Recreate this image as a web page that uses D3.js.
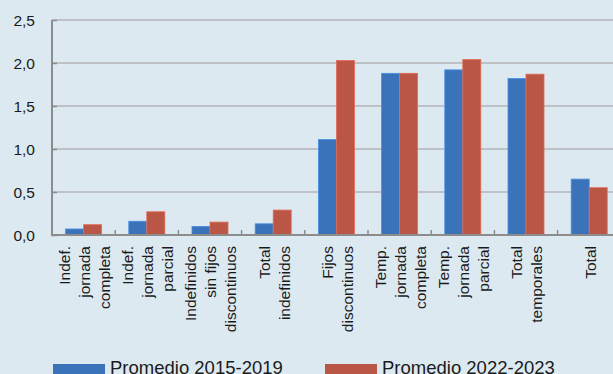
<!DOCTYPE html>
<html>
<head>
<meta charset="utf-8">
<script src="https://cdn.jsdelivr.net/npm/d3@7/dist/d3.min.js"></script>
<style>
  html, body { margin: 0; padding: 0; background: #dde9f0; }
  svg { display: block; font-family: "Liberation Sans", Arial, Helvetica, sans-serif; }
</style>
</head>
<body>
<svg width="613" height="374"></svg>
<script>
// categories, each one a list of label lines
var categories = [
    ["Indef.", "jornada", "completa"],
    ["Indef.", "jornada", "parcial"],
    ["Indefinidos", "sin fijos", "discontinuos"],
    ["Total", "indefinidos"],
    ["Fijos", "discontinuos"],
    ["Temp.", "jornada", "completa"],
    ["Temp.", "jornada", "parcial"],
    ["Total", "temporales"],
    ["Total"]
];
var seriesNames = ["Promedio 2015-2019", "Promedio 2022-2023"];
var seriesColors = ["#3a73b9", "#ba5645"];
var values2015 = [0.07, 0.16, 0.10, 0.13, 1.11, 1.88, 1.92, 1.82, 0.65];
var values2022 = [0.12, 0.27, 0.15, 0.29, 2.03, 1.88, 2.04, 1.87, 0.55];
var yTicks = [0, 0.5, 1.0, 1.5, 2.0, 2.5];

var svg = d3.select("svg"),
    plotLeft = 52,
    step = 63.2,
    plotTop = 20,
    plotBottom = 235;

var keys = categories.map(function(c, i) { return "c" + i; });

var x = d3.scaleBand()
    .domain(keys)
    .range([plotLeft, plotLeft + step * keys.length])
    .paddingInner(0.43)
    .paddingOuter(0.215);

var xs = d3.scaleBand()
    .domain([0, 1])
    .range([0, x.bandwidth()]);

var y = d3.scaleLinear()
    .domain([0, 2.5])
    .range([plotBottom, plotTop]);

var fmt = function(d) { return d3.format(".1f")(d).replace(".", ","); };

// gridlines
svg.append("g")
    .selectAll("line")
    .data(yTicks.slice(1))
    .enter().append("line")
    .attr("x1", plotLeft).attr("x2", 613)
    .attr("y1", function(d) { return y(d); })
    .attr("y2", function(d) { return y(d); })
    .attr("stroke", "#b3b5b8")
    .attr("stroke-width", 1.5);

// y axis ticks
var yAxis = svg.append("g")
    .attr("transform", "translate(" + plotLeft + ",0)")
    .call(d3.axisRight(y).tickValues(yTicks).tickSize(5).tickFormat(""));
yAxis.select(".domain").remove();
yAxis.selectAll("line").attr("stroke", "#8c8c8c").attr("stroke-width", 1.5);

svg.append("g")
    .selectAll("text")
    .data(yTicks)
    .enter().append("text")
    .attr("x", 35)
    .attr("y", function(d) { return y(d); })
    .attr("dy", "0.36em")
    .attr("text-anchor", "end")
    .attr("font-size", 15.5)
    .attr("fill", "#1a1a1a")
    .text(fmt);

// bars
var groups = svg.append("g")
    .selectAll("g")
    .data(keys)
    .enter().append("g")
    .attr("transform", function(d) { return "translate(" + x(d) + ",0)"; });

groups.selectAll("rect")
    .data(function(d, i) { return [values2015[i], values2022[i]]; })
    .enter().append("rect")
    .attr("x", function(d, j) { return xs(j); })
    .attr("width", xs.bandwidth())
    .attr("y", function(d) { return y(d); })
    .attr("height", function(d) { return plotBottom - y(d); })
    .attr("fill", function(d, j) { return seriesColors[j]; })
    .attr("stroke", function(d, j) { return d3.color(seriesColors[j]).brighter(0.6); })
    .attr("stroke-width", 0.8);

// left axis line
svg.append("line")
    .attr("x1", plotLeft).attr("x2", plotLeft)
    .attr("y1", plotTop).attr("y2", plotBottom)
    .attr("stroke", "#8c8c8c")
    .attr("stroke-width", 2);

// bottom axis with category boundary ticks
var boundaries = d3.range(keys.length + 1).map(function(i) { return plotLeft + step * i; });
svg.append("line")
    .attr("x1", plotLeft - 1).attr("x2", 613)
    .attr("y1", plotBottom).attr("y2", plotBottom)
    .attr("stroke", "#8c8c8c")
    .attr("stroke-width", 2);
svg.append("g")
    .selectAll("line")
    .data(boundaries.slice(1))
    .enter().append("line")
    .attr("x1", function(d) { return d; })
    .attr("x2", function(d) { return d; })
    .attr("y1", plotBottom).attr("y2", plotBottom - 5)
    .attr("stroke", "#8c8c8c")
    .attr("stroke-width", 1.5);

// category labels, rotated
var labels = svg.append("g")
    .selectAll("g")
    .data(categories)
    .enter().append("g")
    .attr("transform", function(d, i) {
        return "translate(" + (x(keys[i]) + x.bandwidth() / 2) + ",246) rotate(-90)";
    });

labels.selectAll("text")
    .data(function(d) { return d; })
    .enter().append("text")
    .attr("x", 0)
    .attr("y", function(d, j, nodes) {
        var n = nodes.length;
        return (j - (n - 1) / 2) * 20 + 1;
    })
    .attr("dy", "0.35em")
    .attr("text-anchor", "end")
    .attr("font-size", 15.5)
    .attr("fill", "#1a1a1a")
    .text(function(d) { return d; });

// legend
var legendX = [53, 325];
var legend = svg.append("g")
    .selectAll("g")
    .data(seriesNames)
    .enter().append("g")
    .attr("transform", function(d, i) { return "translate(" + legendX[i] + ",0)"; });

legend.append("rect")
    .attr("x", 0).attr("y", 364)
    .attr("width", 52).attr("height", 12)
    .attr("fill", function(d, i) { return seriesColors[i]; });

legend.append("text")
    .attr("x", 57)
    .attr("y", 374)
    .attr("font-size", 18.5)
    .attr("fill", "#1a1a1a")
    .text(function(d) { return d; });
</script>
</body>
</html>
